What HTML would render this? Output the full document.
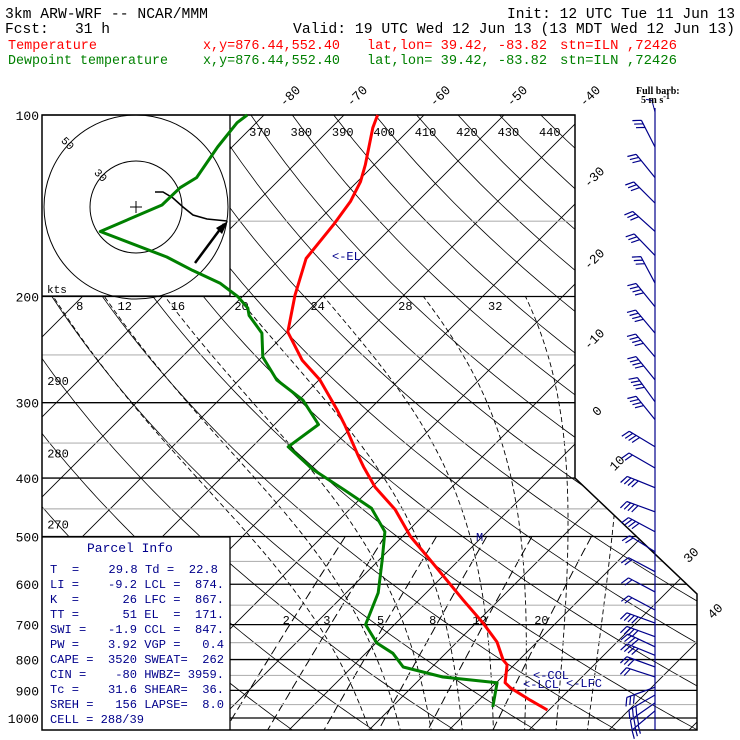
<!DOCTYPE html>
<html><head><meta charset="utf-8">
<style>
html,body{margin:0;padding:0;background:#fff;}
svg{display:block;}
text{font-family:"Liberation Mono",monospace;}
</style></head>
<body>
<svg id="chart" width="740" height="740" viewBox="0 0 740 740" xmlns="http://www.w3.org/2000/svg">
  <defs>
    <clipPath id="gridclip">
      <path d="M230,115 L575,115 L575,478 L697,594 L697,730 L230,730 L230,537 L42,537 L42,296 L230,296 Z"/>
    </clipPath>
  </defs>
  <g>
    <text x="5" y="18" font-size="14.5" textLength="203" lengthAdjust="spacingAndGlyphs">3km ARW-WRF -- NCAR/MMM</text>
    <text x="507" y="18" font-size="14.5" textLength="228" lengthAdjust="spacingAndGlyphs">Init: 12 UTC Tue 11 Jun 13</text>
    <text x="5" y="33" font-size="14.5" xml:space="preserve" textLength="105" lengthAdjust="spacingAndGlyphs">Fcst:   31 h</text>
    <text x="293" y="33" font-size="14.5" textLength="442" lengthAdjust="spacingAndGlyphs">Valid: 19 UTC Wed 12 Jun 13 (13 MDT Wed 12 Jun 13)</text>
    <g fill="#ff0000">
      <text x="8" y="49" font-size="13.5" textLength="89" lengthAdjust="spacingAndGlyphs">Temperature</text>
      <text x="203" y="49" font-size="13.5" textLength="137" lengthAdjust="spacingAndGlyphs">x,y=876.44,552.40</text>
      <text x="367" y="49" font-size="13.5" xml:space="preserve" textLength="180" lengthAdjust="spacingAndGlyphs">lat,lon= 39.42, -83.82</text>
      <text x="560" y="49" font-size="13.5" xml:space="preserve" textLength="117" lengthAdjust="spacingAndGlyphs">stn=ILN ,72426</text>
    </g>
    <g fill="#008000">
      <text x="8" y="64" font-size="13.5" textLength="160" lengthAdjust="spacingAndGlyphs">Dewpoint temperature</text>
      <text x="203" y="64" font-size="13.5" textLength="137" lengthAdjust="spacingAndGlyphs">x,y=876.44,552.40</text>
      <text x="367" y="64" font-size="13.5" xml:space="preserve" textLength="180" lengthAdjust="spacingAndGlyphs">lat,lon= 39.42, -83.82</text>
      <text x="560" y="64" font-size="13.5" xml:space="preserve" textLength="117" lengthAdjust="spacingAndGlyphs">stn=ILN ,72426</text>
    </g>
  </g>
  <g id="grid" clip-path="url(#gridclip)"></g>
  <g id="frame"></g>
  <g id="labels"></g>
  <g id="hodo"></g>
  <g id="profiles"></g>
  <g id="barbs"></g>
  <g fill="#00008b" font-size="12.3">
    <text x="87" y="552" font-size="13">Parcel Info</text>
    <text x="50" y="573" xml:space="preserve" textLength="168" lengthAdjust="spacingAndGlyphs">T  =    29.8 Td =  22.8</text>
    <text x="50" y="588" xml:space="preserve" textLength="174" lengthAdjust="spacingAndGlyphs">LI =    -9.2 LCL =  874.</text>
    <text x="50" y="603" xml:space="preserve" textLength="174" lengthAdjust="spacingAndGlyphs">K  =      26 LFC =  867.</text>
    <text x="50" y="618" xml:space="preserve" textLength="174" lengthAdjust="spacingAndGlyphs">TT =      51 EL  =  171.</text>
    <text x="50" y="633" xml:space="preserve" textLength="174" lengthAdjust="spacingAndGlyphs">SWI =   -1.9 CCL =  847.</text>
    <text x="50" y="648" xml:space="preserve" textLength="174" lengthAdjust="spacingAndGlyphs">PW =    3.92 VGP =   0.4</text>
    <text x="50" y="663" xml:space="preserve" textLength="174" lengthAdjust="spacingAndGlyphs">CAPE =  3520 SWEAT=  262</text>
    <text x="50" y="678" xml:space="preserve" textLength="174" lengthAdjust="spacingAndGlyphs">CIN =    -80 HWBZ= 3959.</text>
    <text x="50" y="693" xml:space="preserve" textLength="174" lengthAdjust="spacingAndGlyphs">Tc =    31.6 SHEAR=  36.</text>
    <text x="50" y="708" xml:space="preserve" textLength="174" lengthAdjust="spacingAndGlyphs">SREH =   156 LAPSE=  8.0</text>
    <text x="50" y="723" xml:space="preserve" textLength="94" lengthAdjust="spacingAndGlyphs">CELL = 288/39</text>
  </g>
  <g fill="#00008b" font-size="12">
    <text x="332" y="260">&lt;-EL</text>
    <text x="533" y="679">&lt;-CCL</text>
    <text x="523" y="688">&lt;-LCL</text>
    <text x="566" y="687">&lt;-LFC</text>
    <text x="476" y="541">M</text>
  </g>
  <g font-weight="bold" font-size="10">
    <text x="636" y="94" style="font-family:'Liberation Serif',serif">Full barb:</text>
    <text x="641" y="103" style="font-family:'Liberation Serif',serif">5 m s<tspan dy="-4" font-size="8">-1</tspan></text>
  </g>
</svg>
<script>
// ---- data ----
const tempP = [100,105,121,129,139,152,173,199,229,255,275,309,327,366,383,414,451,500,547,637,696,748,801,816,874,891,934,970];
const tempT = [-65.8,-64.8,-61.1,-59.6,-58.4,-57.6,-56.8,-53.6,-49.9,-44.6,-39.9,-33.9,-31.1,-25.8,-23.6,-19.6,-14.3,-9.0,-3.6,5.5,10.9,15.0,18.0,19.1,21.1,22.4,26.4,29.8];
const dewP = [100,103,113,127,132,141,156,172,181,190,200,209,215,230,252,275,297,326,355,387,419,449,491,547,620,700,751,781,823,855,874,959];
const dewT = [-82.1,-82.4,-81.8,-80.6,-81.4,-81.5,-85.9,-74.4,-69.5,-64.5,-60.6,-57.9,-56.8,-53.0,-49.9,-45.3,-39.5,-34.5,-35.5,-29.6,-23.0,-17.4,-12.8,-9.6,-6.0,-3.6,0.1,3.4,6.4,12.6,20.1,22.6];
const barbP = [113,127,140,156,171,190,208,230,252,275,299,320,355,385,415,455,491,530,572,618,662,696,733,762,787,823,855,889,916,944,973];
const barbDir = [333,321,315,312,316,332,321,320,320,321,324,321,301,300,292,290,298,302,298,298,298,290,290,295,292,290,288,250,240,235,230];
const barbSpd = [15,15,15,15,15,15,20,20,20,20,20,20,20,10,20,20,20,10,10,10,10,20,20,20,20,15,10,15,15,15,15];
const isoLabelsTop = ["-80","-70","-60","-50","-40"];
const isoLabelsSide = ["-30","-20","-10","0","10","30","40"];
const pressTicks = [100,200,300,400,500,600,700,800,900,1000];
const thetaVals = [250,260,270,280,290,300,310,320,330,340,350,360,370,380,390,400,410,420,430,440,450,460,470];
const thetaTopLabels = [370,380,390,400,410,420,430,440];
const thetaLeftLabels = [290,280,270];
const thetaWVals = [8,12,16,20,24,28,32,36];
const thetaWLabels = [8,12,16,20,24,28,32];
const mixVals = [2,3,5,8,12,20];

// ---- axes ----
const NS = "http://www.w3.org/2000/svg";
function yP(p){ return 115 + 603*Math.log10(p/100); }
function xT(T,p){ return 289 + 8*T + (730 - yP(p)); }
function mk(tag, attrs, parent){ const e=document.createElementNS(NS,tag); for(const k in attrs) e.setAttribute(k,attrs[k]); parent.appendChild(e); return e; }
function rightEdge(y){ return y<=478 ? 575 : Math.min(697, 575 + (y-478)*1.052); }
const grid = document.getElementById('grid');
const frame = document.getElementById('frame');
const labels = document.getElementById('labels');

for(let p=100;p<=1000;p+=50){
  const y=yP(p);
  const major = p%100===0;
  let x0 = 42;
  if(y>115 && y<296) x0=230;
  if(y>537) x0=230;
  const l = mk('line',{x1:x0,y1:y,x2:rightEdge(y),y2:y,stroke:major?'#000':'#b4b4b4','stroke-width':major?1.3:1.2},frame);
  
  
}
for(let T=-140;T<=60;T+=10){
  const p1=40, p2=1100;
  const l = mk('line',{x1:xT(T,p1),y1:yP(p1),x2:xT(T,p2),y2:yP(p2),stroke:'#000','stroke-width':0.9},grid);
  
  
}
for(const th of thetaVals){
  let d='';
  for(let p=80;p<=1060;p+=10){ const T=th*Math.pow(p/1000,0.286)-273.15; d+=(d?'L':'M')+xT(T,p).toFixed(1)+','+yP(p).toFixed(1); }
  const e = mk('path',{d:d,fill:'none',stroke:'#000','stroke-width':0.8},grid);
  
  
}
function es(T){ return 6.112*Math.exp(17.67*T/(T+243.5)); }
function moistPath(tw){
  let T=tw+273.15, p=1000; const pts=[];
  let T2=T; let pts2=[];
  for(let pp=1000; pp<1060; pp+=5){ const rs=0.622*es(T2-273.15)/(pp-es(T2-273.15)); const dTdp=(287*T2+2.5e6*rs)/(pp*(1004+2.5e6*2.5e6*rs*0.622/(287*T2*T2))); T2+=dTdp*5; pts2.push([T2-273.15,pp+5]); }
  pts.push(...pts2.reverse()); pts.push([T-273.15,1000]);
  while(p>200){ const rs=0.622*es(T-273.15)/(p-es(T-273.15)); const dTdp=(287*T+2.5e6*rs)/(p*(1004+2.5e6*2.5e6*rs*0.622/(287*T*T))); T+=dTdp*(-5); p-=5; pts.push([T-273.15,p]); }
  return pts;
}
for(const tw of thetaWVals){
  const pts=moistPath(tw);
  const d=pts.map((q,i)=>(i?'L':'M')+xT(q[0],q[1]).toFixed(1)+','+yP(q[1]).toFixed(1)).join('');
  const e = mk('path',{d:d,fill:'none',stroke:'#000','stroke-width':0.9,'stroke-dasharray':'5,3'},grid);
  
  
}
function tdFromW(w,p){ const e=w*p/(622+w); const a=Math.log(e/6.112); return 243.5*a/(17.67-a); }
for(const w of mixVals){
  let d='';
  for(let p=500;p<=1060;p+=10){ d+=(d?'L':'M')+xT(tdFromW(w,p),p).toFixed(1)+','+yP(p).toFixed(1); }
  const e = mk('path',{d:d,fill:'none',stroke:'#000','stroke-width':1,'stroke-dasharray':'9,4'},grid);
  
  
}
const fr = mk('path',{d:'M42,115 L575,115 L575,478 L697,594 L697,730 L42,730 Z',fill:'none',stroke:'#000','stroke-width':1.5},frame);


const hb = mk('path',{d:'M42,296 L230,296 L230,115',fill:'none',stroke:'#000','stroke-width':1.3},frame);


const pb = mk('path',{d:'M42,537 L230,537 L230,730',fill:'none',stroke:'#000','stroke-width':1.3},frame);


const staff = mk('line',{x1:655,y1:108,x2:655,y2:730,stroke:'#00008b','stroke-width':1.2},frame);



function txt(s,x,y,attrs,parent,name){ const t=mk('text',Object.assign({x:x,y:y,'font-size':13},attrs||{}),parent||labels); t.textContent=s;   return t; }
pressTicks.forEach(p=>txt(String(p),39,yP(p)+5,{'text-anchor':'end'},labels,'pressure-label-'+p));
const topX=[290,357,440,517,590];
isoLabelsTop.forEach((s,i)=>txt(s,topX[i],100,{'text-anchor':'middle',transform:'rotate(-45 '+topX[i]+' 96)'},labels,'isotherm-label'));
const sidePos=[[597,180],[597,262],[597,342],[600,414],[620,466],[694,558],[718,614]];
isoLabelsSide.forEach((s,i)=>txt(s,sidePos[i][0],sidePos[i][1],{'text-anchor':'middle',transform:'rotate(-45 '+sidePos[i][0]+' '+sidePos[i][1]+')'},labels,'isotherm-label'));
thetaTopLabels.forEach(th=>{ const T=th*Math.pow(0.1,0.286)-273.15; const x=xT(T,100)+9; txt(String(th),x,136,{'text-anchor':'middle','font-size':12},labels,'theta-label'); });
thetaLeftLabels.forEach(th=>{
  let best=0,bd=1e9; for(let p=150;p<=1050;p+=1){ const T=th*Math.pow(p/1000,0.286)-273.15; const d=Math.abs(xT(T,p)-58); if(d<bd){bd=d;best=p;} }
  txt(String(th),58,yP(best)+4,{'text-anchor':'middle','font-size':12},labels,'theta-label');
});
thetaWLabels.forEach(tw=>{ const pts=moistPath(tw); const q=pts[pts.length-1]; const x=xT(q[0],200); txt(String(tw),x+4-(x-240)*0.12,310,{'text-anchor':'middle','font-size':12},labels,'moist-adiabat-label'); });
mixVals.forEach(w=>txt(String(w),xT(tdFromW(w,690),690)-6,624,{'text-anchor':'middle','font-size':12},labels,'mixing-ratio-label'));

const hodo=document.getElementById('hodo');
[46,92].forEach(r=>{
  const e=mk('circle',{cx:136,cy:207,r:r,fill:'none',stroke:'#000','stroke-width':1},hodo);
  
  
});
txt('50',68,147,{'font-size':11,transform:'rotate(45 68 143)','text-anchor':'middle'},hodo,'hodograph-ring-label');
txt('30',101,179,{'font-size':11,transform:'rotate(45 101 175)','text-anchor':'middle'},hodo,'hodograph-ring-label');
const pl=mk('path',{d:'M130,207 h12 M136,201 v12',stroke:'#000','stroke-width':1},hodo);


const ht=mk('path',{d:'M155,192 L163,192 L173,198 L183,207 L193,215 L207,219 L227,221',fill:'none',stroke:'#000','stroke-width':1.6},hodo);


const sm=mk('path',{d:'M195,263 L224,224',stroke:'#000','stroke-width':2.5},hodo);


const ah=mk('path',{d:'M228,221 L216,228 L222,234 Z',fill:'#000'},hodo);


txt('kts',47,293,{'font-size':11},hodo,'hodograph-units');

const prof=document.getElementById('profiles');
function line(P,T,color,name){ const d=P.map((p,i)=>(i?'L':'M')+xT(T[i],p).toFixed(1)+','+yP(p).toFixed(1)).join(''); const e=mk('path',{d:d,fill:'none',stroke:color,'stroke-width':3,'stroke-linejoin':'round'},prof);   }
line(dewP,dewT,'#008000','dewpoint-line');
line(tempP,tempT,'#ff0000','temperature-line');

const barbs=document.getElementById('barbs');
function drawBarb(x,y,dir,spd,L,fl){
  const r=dir*Math.PI/180, ux=Math.sin(r), uy=-Math.cos(r);
  const tx=x+L*ux, ty=y+L*uy;
  let d='M'+x+','+y+'L'+tx.toFixed(1)+','+ty.toFixed(1);
  // feathers on the left side, angled back toward the tip
  const a=-65*Math.PI/180;
  const fx=ux*Math.cos(a)-uy*Math.sin(a), fy=ux*Math.sin(a)+uy*Math.cos(a);
  let n=Math.floor(spd/5), half=(spd%5)>=2.5;
  let pos=0;
  for(let i=0;i<n;i++){ const bx=tx-ux*pos, by=ty-uy*pos; d+='M'+bx.toFixed(1)+','+by.toFixed(1)+'l'+(fx*fl).toFixed(1)+','+(fy*fl).toFixed(1); pos+=4; }
  if(half){ const bx=tx-ux*pos, by=ty-uy*pos; d+='M'+bx.toFixed(1)+','+by.toFixed(1)+'l'+(fx*fl/2).toFixed(1)+','+(fy*fl/2).toFixed(1); }
  return d;
}
barbP.forEach((p,i)=>{
  const e=mk('path',{d:drawBarb(655,yP(p),barbDir[i],barbSpd[i],30,9),fill:'none',stroke:'#00008b','stroke-width':1.2},barbs);
  
  
});
const lb=mk('path',{d:drawBarb(655,112,345,5,12,6),fill:'none',stroke:'#00008b','stroke-width':1},barbs);


</script>
</body></html>
